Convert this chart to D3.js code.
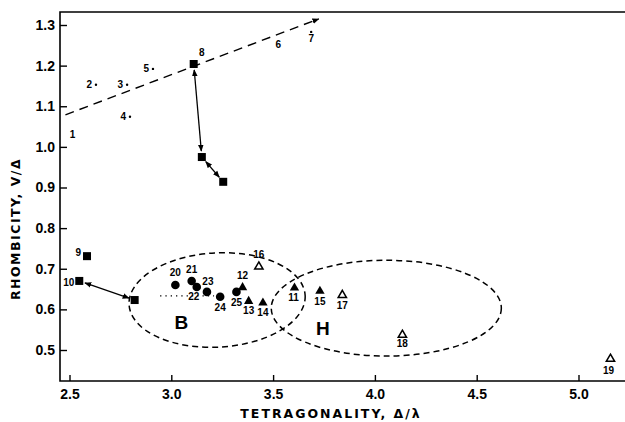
<!DOCTYPE html>
<html>
<head>
<meta charset="utf-8">
<script src="https://cdn.jsdelivr.net/npm/d3@7"></script>
<style>
  body { margin: 0; background: #fff; }
  svg { display: block; }
</style>
</head>
<body>
<svg id="chart"></svg>
<script>
var width = 625
var height = 422

var xTicks = [2.5, 3.0, 3.5, 4.0, 4.5, 5.0]
var yTicks = [0.5, 0.6, 0.7, 0.8, 0.9, 1.0, 1.1, 1.2, 1.3]

// compounds
var smallDots = [
    {id: "1", x: 2.505, y: 1.020},
    {id: "2", x: 2.630, y: 1.153},
    {id: "3", x: 2.783, y: 1.153},
    {id: "4", x: 2.797, y: 1.074},
    {id: "5", x: 2.910, y: 1.192},
    {id: "6", x: 3.525, y: 1.250},
    {id: "7", x: 3.687, y: 1.283}
]
var squares = [
    {id: "8", x: 3.110, y: 1.204},
    {id: "", x: 3.150, y: 0.975},
    {id: "", x: 3.255, y: 0.914},
    {id: "9", x: 2.586, y: 0.731},
    {id: "10", x: 2.548, y: 0.670},
    {id: "", x: 2.820, y: 0.623}
]
var circles = [
    {id: "20", x: 3.020, y: 0.660},
    {id: "21", x: 3.100, y: 0.670},
    {id: "22", x: 3.125, y: 0.655},
    {id: "23", x: 3.175, y: 0.643},
    {id: "24", x: 3.240, y: 0.631},
    {id: "25", x: 3.320, y: 0.643}
]
var filledTriangles = [
    {id: "11", x: 3.605, y: 0.653},
    {id: "12", x: 3.350, y: 0.654},
    {id: "13", x: 3.380, y: 0.620},
    {id: "14", x: 3.450, y: 0.616},
    {id: "15", x: 3.730, y: 0.645}
]
var openTriangles = [
    {id: "16", x: 3.430, y: 0.705},
    {id: "17", x: 3.840, y: 0.635},
    {id: "18", x: 4.135, y: 0.537},
    {id: "19", x: 5.157, y: 0.478}
]

var trendLine = [[2.48, 1.079], [3.724, 1.315]]
var arrows = [
    [[3.110, 1.204], [3.150, 0.975]],
    [[3.150, 0.975], [3.255, 0.914]],
    [[2.548, 0.670], [2.820, 0.623]]
]
var dottedLine = [[2.945, 0.633], [3.210, 0.633]]
var regions = [
    {name: "B", cx: 3.225, cy: 0.623, rx: 0.433, ry: 0.116, tilt: -3, lx: 3.05, ly: 0.552},
    {name: "H", cx: 4.056, cy: 0.603, rx: 0.565, ry: 0.118, tilt: 0, lx: 3.745, ly: 0.537}
]

// where each number sits relative to its mark: [dx, dy, anchor]
var labelPos = {
    "1": [2, -1, "middle"], "2": [-4, 3, "end"], "3": [-4, 3, "end"], "4": [-4, 3, "end"],
    "5": [-4, 3, "end"], "6": [0, 3, "middle"], "7": [0, 10, "middle"],
    "8": [8, -8, "middle"], "9": [-6, 0, "end"], "10": [-5, 5, "end"],
    "20": [0, -9, "middle"], "21": [0, -8, "middle"], "22": [-3, 13, "middle"],
    "23": [1, -7, "middle"], "24": [0, 14, "middle"], "25": [0, 14, "middle"],
    "11": [-1, 13, "middle"], "12": [0, -8, "middle"], "13": [0, 13, "middle"],
    "14": [0, 13, "middle"], "15": [0, 14, "middle"], "16": [0, -9, "middle"],
    "17": [0, 14, "middle"], "18": [0, 12, "middle"], "19": [-2, 15, "middle"]
}

var frame = {left: 60, top: 12, bottom: 381, right: 625}

var x = d3.scaleLinear().domain([2.5, 5.0]).range([69.5, 578.5])
var y = d3.scaleLinear().domain([0.5, 1.3]).range([350, 25])

var svg = d3.select("#chart")
    .attr("width", width)
    .attr("height", height)
    .style("font-family", "'Liberation Sans Narrow', 'Liberation Sans', sans-serif")

var defs = svg.append("defs")
defs.append("marker")
    .attr("id", "head")
    .attr("viewBox", "0 0 10 10")
    .attr("refX", 9).attr("refY", 5)
    .attr("markerWidth", 7).attr("markerHeight", 7)
    .attr("markerUnits", "userSpaceOnUse")
    .attr("orient", "auto-start-reverse")
    .append("path")
    .attr("d", "M0,1 L10,5 L0,9 Z")
    .attr("fill", "#000")

// frame (no right edge, the figure is cut there)
svg.append("path")
    .attr("d", `M${frame.right},${frame.top} L${frame.left},${frame.top} L${frame.left},${frame.bottom} L${frame.right},${frame.bottom}`)
    .attr("fill", "none")
    .attr("stroke", "#000")
    .attr("stroke-width", 1.6)

var yAxis = svg.append("g")
    .attr("transform", `translate(${frame.left},0)`)
    .call(d3.axisLeft(y).tickValues(yTicks).tickSize(-7).tickPadding(5).tickFormat(d3.format(".1f")))
yAxis.select(".domain").remove()

var xAxis = svg.append("g")
    .attr("transform", `translate(0,${frame.bottom})`)
    .call(d3.axisBottom(x).tickValues(xTicks).tickSize(-6).tickPadding(8).tickFormat(d3.format(".1f")))
xAxis.select(".domain").remove()

svg.selectAll(".tick line").attr("stroke", "#000").attr("stroke-width", 1.4)
svg.selectAll(".tick text")
    .attr("fill", "#000")
    .style("font-size", "14px")
    .style("font-weight", "bold")
    .style("font-family", "'Liberation Sans Narrow', sans-serif")

// axis titles
svg.append("text")
    .attr("x", 331).attr("y", 418)
    .attr("text-anchor", "middle")
    .style("font-size", "12.5px")
    .style("font-weight", "bold")
    .style("letter-spacing", "2px")
    .style("font-family", "'DejaVu Sans', sans-serif")
    .text("TETRAGONALITY,  Δ/λ")

svg.append("text")
    .attr("transform", "translate(20,229) rotate(-90)")
    .attr("text-anchor", "middle")
    .style("font-size", "12.5px")
    .style("font-weight", "bold")
    .style("letter-spacing", "1.5px")
    .style("font-family", "'DejaVu Sans', sans-serif")
    .text("RHOMBICITY,  V/Δ")

// regions B and H
regions.forEach(function(r) {
    var px = x(r.cx), py = y(r.cy)
    svg.append("ellipse")
        .attr("cx", px).attr("cy", py)
        .attr("rx", x(r.cx + r.rx) - px)
        .attr("ry", y(r.cy - r.ry) - py)
        .attr("transform", `rotate(${r.tilt},${px},${py})`)
        .attr("fill", "none")
        .attr("stroke", "#000")
        .attr("stroke-width", 1.5)
        .attr("stroke-dasharray", "6,4")
    svg.append("text")
        .attr("x", x(r.lx)).attr("y", y(r.ly))
        .attr("text-anchor", "middle")
        .style("font-size", "19px")
        .style("font-weight", "bold")
        .style("font-family", "'Liberation Sans', sans-serif")
        .text(r.name)
})

var line = d3.line().x(d => x(d[0])).y(d => y(d[1]))

svg.append("path")
    .attr("d", line(trendLine))
    .attr("fill", "none")
    .attr("stroke", "#000")
    .attr("stroke-width", 1.4)
    .attr("stroke-dasharray", "9,6")
    .attr("marker-end", "url(#head)")

svg.append("path")
    .attr("d", line(dottedLine))
    .attr("fill", "none")
    .attr("stroke", "#000")
    .attr("stroke-width", 1.3)
    .attr("stroke-dasharray", "1.3,4")

// double headed arrows between squares, trimmed so heads stop at the marks
arrows.forEach(function(a) {
    var x1 = x(a[0][0]), y1 = y(a[0][1]), x2 = x(a[1][0]), y2 = y(a[1][1])
    var len = Math.hypot(x2 - x1, y2 - y1), gap = 6
    var ux = (x2 - x1) / len, uy = (y2 - y1) / len
    svg.append("line")
        .attr("x1", x1 + ux * gap).attr("y1", y1 + uy * gap)
        .attr("x2", x2 - ux * gap).attr("y2", y2 - uy * gap)
        .attr("stroke", "#000")
        .attr("stroke-width", 1.3)
        .attr("marker-start", "url(#head)")
        .attr("marker-end", "url(#head)")
})

// marks
svg.append("g").selectAll("circle")
    .data(smallDots.filter(d => d.id != "1" && d.id != "6"))
    .enter().append("circle")
    .attr("cx", d => x(d.x)).attr("cy", d => y(d.y))
    .attr("r", 1.2)
    .attr("fill", "#000")

svg.append("g").selectAll("rect")
    .data(squares)
    .enter().append("rect")
    .attr("x", d => x(d.x) - 4).attr("y", d => y(d.y) - 4)
    .attr("width", 8).attr("height", 8)
    .attr("fill", "#000")

svg.append("g").selectAll("circle")
    .data(circles)
    .enter().append("circle")
    .attr("cx", d => x(d.x)).attr("cy", d => y(d.y))
    .attr("r", 4.3)
    .attr("fill", "#000")

var tri = d3.symbol().type(d3.symbolTriangle)

svg.append("g").selectAll("path")
    .data(filledTriangles)
    .enter().append("path")
    .attr("d", tri.size(38))
    .attr("transform", d => `translate(${x(d.x)},${y(d.y)})`)
    .attr("fill", "#000")

svg.append("g").selectAll("path")
    .data(openTriangles)
    .enter().append("path")
    .attr("d", tri.size(30))
    .attr("transform", d => `translate(${x(d.x)},${y(d.y)})`)
    .attr("fill", "#fff")
    .attr("stroke", "#000")
    .attr("stroke-width", 1.5)

// numbers
var labelled = smallDots.concat(squares, circles, filledTriangles, openTriangles).filter(d => d.id)
svg.append("g").selectAll("text")
    .data(labelled)
    .enter().append("text")
    .attr("x", d => x(d.x) + labelPos[d.id][0])
    .attr("y", d => y(d.y) + labelPos[d.id][1])
    .attr("text-anchor", d => labelPos[d.id][2])
    .style("font-size", "10px")
    .style("font-weight", "bold")
    .text(d => d.id)
</script>
</body>
</html>
